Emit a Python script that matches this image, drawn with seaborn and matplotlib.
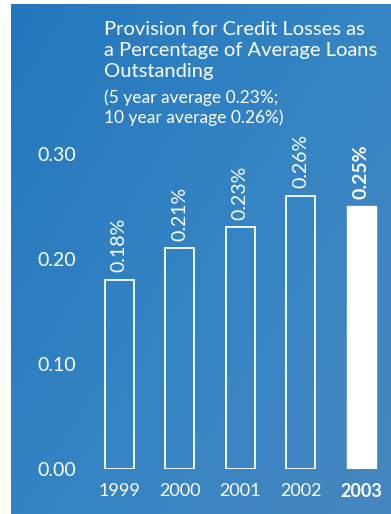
import numpy as np
import pandas as pd
import matplotlib
matplotlib.use("Agg")
import matplotlib.pyplot as plt
from matplotlib.colors import LinearSegmentedColormap
import seaborn as sns

years = ["1999", "2000", "2001", "2002", "2003"]
provision_pct = [0.18, 0.21, 0.23, 0.26, 0.25]
value_labels = ["0.18%", "0.21%", "0.23%", "0.26%", "0.25%"]
y_ticks = [0.00, 0.10, 0.20, 0.30]
y_tick_labels = ["0.00", "0.10", "0.20", "0.30"]
title_lines = "Provision for Credit Losses as\na Percentage of Average Loans\nOutstanding"
subtitle_lines = "(5 year average 0.23%;\n10 year average 0.26%)"

sns.set_theme(style="white")
plt.rcParams["font.family"] = ["Lato", "DejaVu Sans"]

W, H = 391, 514
fig = plt.figure(figsize=(W / 100, H / 100), dpi=100)
fig.patch.set_facecolor("white")

# blue panel with a soft diagonal gradient
bg = fig.add_axes([11 / W, 0, 1 - 11 / W, 1 - 4 / H])
bg.set_axis_off()
gx, gy = np.meshgrid(np.linspace(0, 1, 200), np.linspace(0, 1, 260))
grad = 0.55 * gx + 0.45 * gy
cmap = LinearSegmentedColormap.from_list("panel", ["#2477bd", "#3484c4", "#4687c0"])
bg.imshow(grad, cmap=cmap, aspect="auto", extent=[0, 1, 0, 1], origin="upper")

left, right = 89, 391.5
bottom_px, top_px = 469, 154
ax = fig.add_axes([left / W, (H - bottom_px) / H, (right - left) / W, (bottom_px - top_px) / H])
ax.patch.set_alpha(0)

df = pd.DataFrame({"year": years, "pct": provision_pct})
sns.barplot(data=df, x="year", y="pct", width=0.48, ax=ax, color="white")

for i, bar in enumerate(ax.patches):
    if i < len(years) - 1:
        bar.set_facecolor("none")
        bar.set_edgecolor("white")
        bar.set_linewidth(1.3)
    else:
        bar.set_facecolor("white")
        bar.set_edgecolor("white")
        bar.set_linewidth(1.0)

for i, (v, lab) in enumerate(zip(provision_pct, value_labels)):
    ax.text(i, v + 0.0075, lab, rotation=90, ha="center", va="bottom",
            color="white", fontsize=14,
            fontweight="bold" if i == len(years) - 1 else "normal",
            clip_on=False)

ax.set_xlim(-0.5, 4.5)
ax.set_ylim(0, 0.30)
ax.set_yticks(y_ticks)
ax.set_yticklabels(y_tick_labels)
ax.set_xlabel("")
ax.set_ylabel("")
ax.tick_params(axis="y", length=0, pad=9, labelsize=14, labelcolor="white")
ax.tick_params(axis="x", length=0, pad=10, labelsize=13, labelcolor="white")
for t in ax.get_xticklabels():
    if t.get_text() == years[-1]:
        t.set_fontweight("bold")
for s in ax.spines.values():
    s.set_visible(False)

fig.text(104 / W, 1 - 21 / H, title_lines, ha="left", va="top", color="white",
         fontsize=14.5, linespacing=1.29)
fig.text(104 / W, 1 - 89 / H, subtitle_lines, ha="left", va="top", color="white",
         fontsize=12.5, linespacing=1.28)

fig.savefig("out.png", dpi=100, facecolor=fig.get_facecolor())
